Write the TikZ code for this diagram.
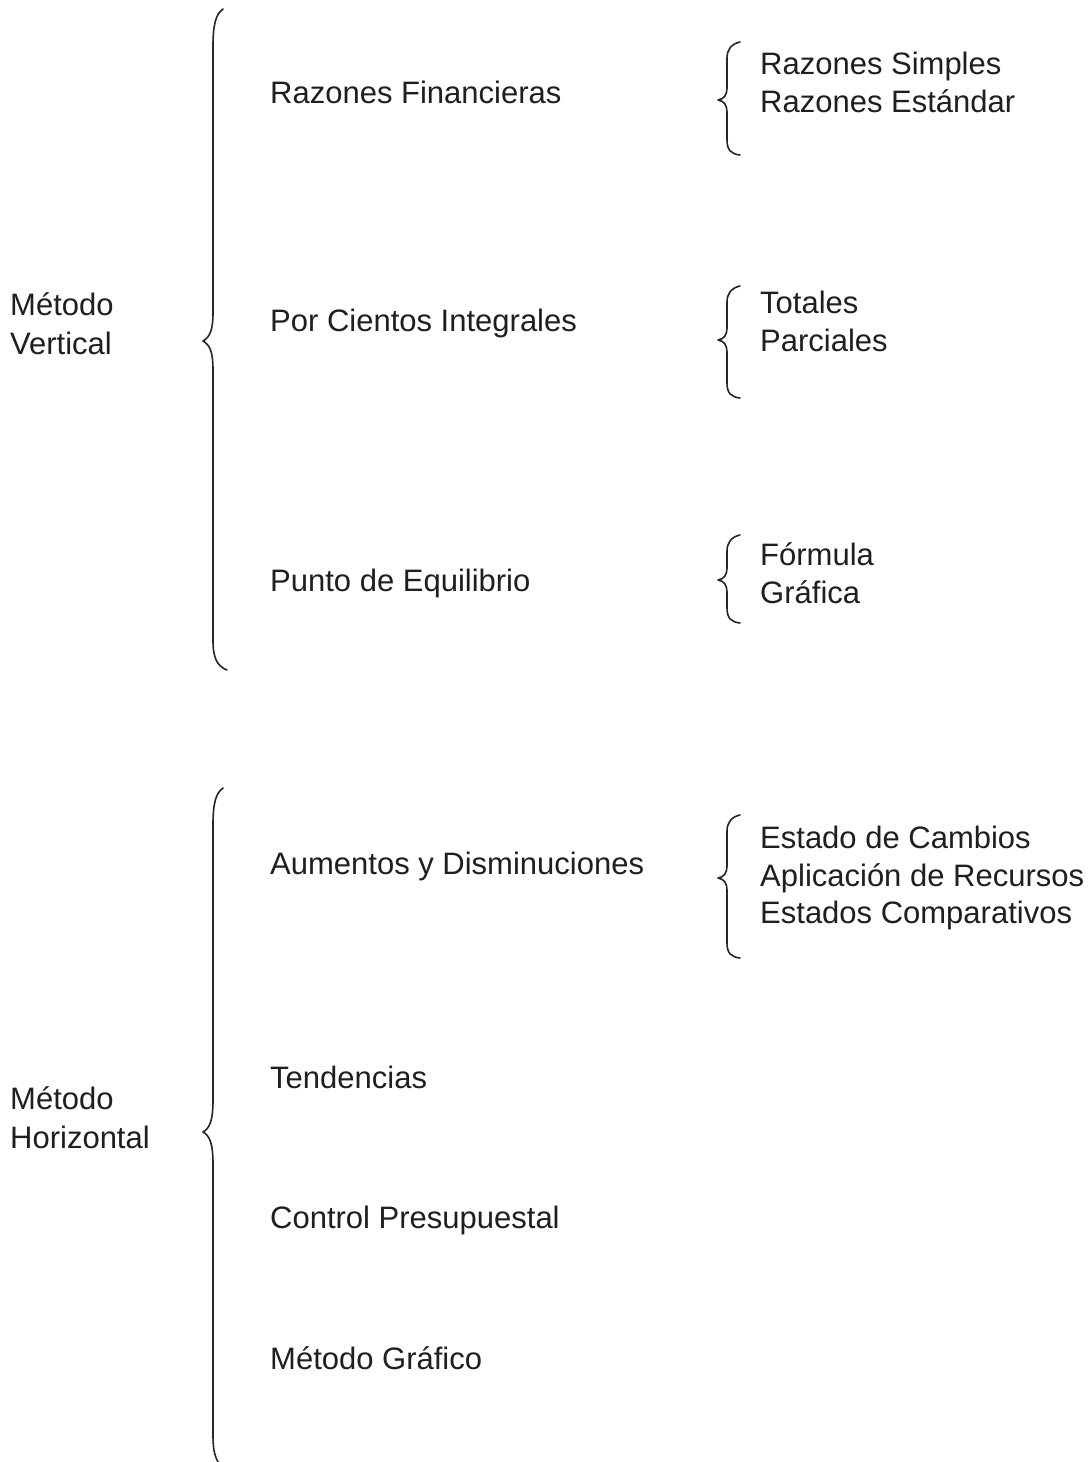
\documentclass[tikz,border=0pt]{standalone}
\usepackage{fontspec}
\setmainfont{Liberation Sans}
\begin{document}
\begin{tikzpicture}[x=1pt,y=-1pt,
  lbl/.style={anchor=base west,inner sep=0pt,font=\fontsize{31}{38}\selectfont,text=black!88},
  brc/.style={draw=black!85,line width=1.6pt,line cap=round,line join=round}]
\useasboundingbox[fill=white] (0,0) rectangle (1090,1462);
% left labels
\node[lbl] (mv1) at (10,315) {Método};
\node[lbl] (mv2) at (10,354) {Vertical};
\node[lbl] (mh1) at (10,1109) {Método};
\node[lbl] (mh2) at (10,1148) {Horizontal};
% middle column
\node[lbl] (rf) at (270,103) {Razones Financieras};
\node[lbl] (pc) at (270,331) {Por Cientos Integrales};
\node[lbl] (pe) at (270,591) {Punto de Equilibrio};
\node[lbl] (ad) at (270,874) {Aumentos y Disminuciones};
\node[lbl] (te) at (270,1088) {Tendencias};
\node[lbl] (cp) at (270,1228) {Control Presupuestal};
\node[lbl] (mg) at (270,1369) {Método Gráfico};
% right column
\node[lbl] (rs) at (760,74) {Razones Simples};
\node[lbl] (re) at (760,112) {Razones Estándar};
\node[lbl] (to) at (760,313) {Totales};
\node[lbl] (pa) at (760,351) {Parciales};
\node[lbl] (fo) at (760,565) {Fórmula};
\node[lbl] (gr) at (760,603) {Gráfica};
\node[lbl] (ec) at (760,848) {Estado de Cambios};
\node[lbl] (ar) at (760,886) {Aplicación de Recursos};
\node[lbl] (eco) at (760,923) {Estados Comparativos};
% big braces
\draw[brc] (223,9) .. controls (216,14) and (213,24) .. (213,46) -- (213,312)
  .. controls (213,330) and (210,337) .. (203,341)
  .. controls (210,345) and (213,352) .. (213,370) -- (213,640)
  .. controls (213,658) and (217,666) .. (227,670);
\draw[brc] (223,788) .. controls (216,793) and (213,803) .. (213,824) -- (213,1100)
  .. controls (213,1120) and (210,1128) .. (203,1132)
  .. controls (210,1136) and (213,1144) .. (213,1164) -- (213,1436)
  .. controls (213,1450) and (215,1457) .. (219,1464);
% small braces
\draw[brc] (740,42) .. controls (731,44) and (727,50) .. (727,58) -- (727,88)
  .. controls (727,95) and (724,99) .. (718,100)
  .. controls (724,101) and (727,105) .. (727,112) -- (727,140)
  .. controls (727,150) and (731,154) .. (740,155);
\draw[brc] (740,286) .. controls (731,288) and (727,294) .. (727,302) -- (727,328)
  .. controls (727,335) and (724,339) .. (718,340)
  .. controls (724,341) and (727,345) .. (727,352) -- (727,383)
  .. controls (727,393) and (731,397) .. (740,398);
\draw[brc] (740,535) .. controls (731,537) and (727,543) .. (727,551) -- (727,568)
  .. controls (727,575) and (724,579) .. (718,580)
  .. controls (724,581) and (727,585) .. (727,592) -- (727,608)
  .. controls (727,618) and (731,622) .. (740,623);
\draw[brc] (740,815) .. controls (731,817) and (727,823) .. (727,831) -- (727,866)
  .. controls (727,873) and (724,877) .. (718,878)
  .. controls (724,879) and (727,883) .. (727,890) -- (727,943)
  .. controls (727,953) and (731,957) .. (740,958);
\end{tikzpicture}
\end{document}
